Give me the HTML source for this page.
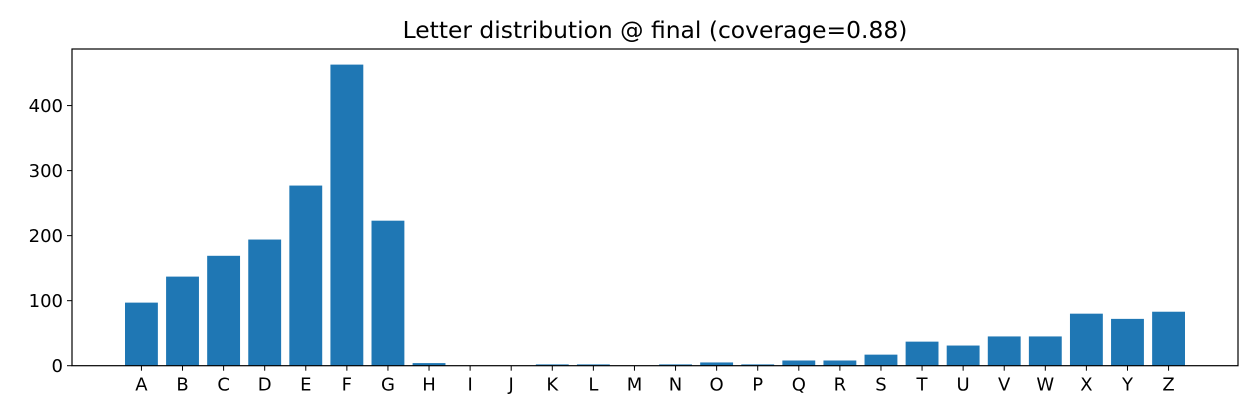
<!DOCTYPE html>
<html><head><meta charset="utf-8"><style>
body{margin:0;background:#fff;}
svg{display:block;font-family:"DejaVu Sans","Liberation Sans",sans-serif;}
</style></head><body>
<svg id="chart" width="1260" height="420">
<text x="655" y="38" text-anchor="middle" font-size="23.4" fill="#000">Letter distribution @ final (coverage=0.88)</text>
<g id="bars"></g>
<g id="xticks"></g>
<g id="yticks"></g>
<rect x="72" y="49" width="1166" height="316.7" fill="none" stroke="#000" stroke-width="1.2"/>
</svg>
<script>
const categories = ["A","B","C","D","E","F","G","H","I","J","K","L","M","N","O","P","Q","R","S","T","U","V","W","X","Y","Z"];
const counts = [97,137,169,194,277,463,223,4,0,0,2,2,0,2,5,2,8,8,17,37,31,45,45,80,72,83];
const yTicks = [0,100,200,300,400];
const L=72,R=1238,T=49,B=365.7;
const xmin=-1.69,xmax=26.69,ymax=487;
const xs=i=>L+(i-xmin)/(xmax-xmin)*(R-L);
const ys=v=>B-v/ymax*(B-T);
const NS="http://www.w3.org/2000/svg";
const bw=0.8*(R-L)/(xmax-xmin);
const gb=document.getElementById('bars'),gx=document.getElementById('xticks'),gy=document.getElementById('yticks');
categories.forEach((c,i)=>{
  const r=document.createElementNS(NS,'rect');
  r.setAttribute('x',xs(i)-bw/2);r.setAttribute('width',bw);
  r.setAttribute('y',ys(counts[i]));r.setAttribute('height',B-ys(counts[i]));
  r.setAttribute('fill','#1f77b4');
  
  
  gb.appendChild(r);
  const t=document.createElementNS(NS,'line');
  t.setAttribute('x1',xs(i));t.setAttribute('x2',xs(i));t.setAttribute('y1',B);t.setAttribute('y2',B+5);
  t.setAttribute('stroke','#000');
  
  
  gx.appendChild(t);
  const l=document.createElementNS(NS,'text');
  l.setAttribute('x',xs(i));l.setAttribute('y',B+25);l.setAttribute('text-anchor','middle');l.setAttribute('font-size','18');
  l.textContent=c;
  
  
  gx.appendChild(l);
});
yTicks.forEach(v=>{
  const t=document.createElementNS(NS,'line');
  t.setAttribute('x1',L-5);t.setAttribute('x2',L);t.setAttribute('y1',ys(v));t.setAttribute('y2',ys(v));
  t.setAttribute('stroke','#000');
  
  
  gy.appendChild(t);
  const l=document.createElementNS(NS,'text');
  l.setAttribute('x',L-9);l.setAttribute('y',ys(v)+6.5);l.setAttribute('text-anchor','end');l.setAttribute('font-size','18');
  l.textContent=v;
  
  
  gy.appendChild(l);
});
</script>
</body></html>
